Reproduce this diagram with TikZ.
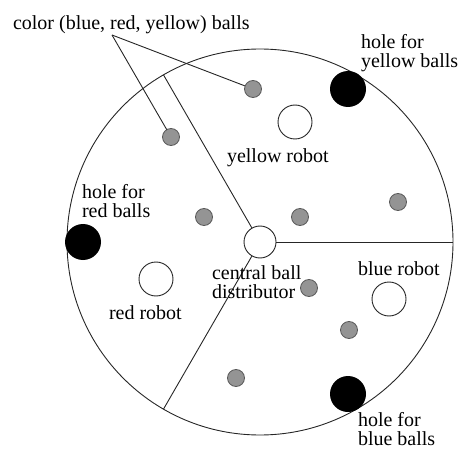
\documentclass[tikz,border=0pt]{standalone}
\usepackage{fontspec}
\setmainfont{Liberation Serif}
\begin{document}
\begin{tikzpicture}[x=1pt,y=-1pt,
  every node/.style={inner sep=0pt, outer sep=0pt},
  lbl/.style={font=\fontsize{20}{19}\selectfont\rmfamily, align=left, anchor=base west},
  ball/.style={circle, draw=black!65, fill=black!42, line width=0.8pt, minimum size=17pt},
  robot/.style={circle, draw=black!85, fill=white, line width=0.9pt, minimum size=34pt},
  hole/.style={circle, fill=black, minimum size=36pt},
  distr/.style={circle, draw=black!85, fill=white, line width=0.9pt, minimum size=32pt},
  wall/.style={draw=black!85, line width=0.9pt},
  pointer/.style={draw=black!85, line width=0.9pt}]
\useasboundingbox (0,0) rectangle (463,457);
% table
\coordinate (O) at (260,242);
\draw[wall] (O) circle[radius=193];
% radial walls
\coordinate (E0) at (453,242);
\coordinate (E1) at (163.5,409.1);
\coordinate (E2) at (163.5,74.9);
\node[distr] (D) at (O) {};
\draw[wall] (D) -- (E0);
\draw[wall] (D) -- (E1);
\draw[wall] (D) -- (E2);
% holes
\node[hole] (hy) at (348,89) {};
\node[hole] (hr) at (83,242) {};
\node[hole] (hb) at (348,394) {};
% robots
\node[robot] (ry) at (295,122) {};
\node[robot] (rr) at (156,279) {};
\node[robot] (rb) at (389,299) {};
% balls
\node[ball] (b1) at (253,89) {};
\node[ball] (b2) at (171,137) {};
\node[ball] (b3) at (204,217) {};
\node[ball] (b4) at (300,217) {};
\node[ball] (b5) at (398,202) {};
\node[ball] (b6) at (309,288) {};
\node[ball] (b7) at (349,330) {};
\node[ball] (b8) at (236,378) {};
% labels (multi-line: anchor is the baseline of the last line)
\node[lbl] (lc) at (13,30) {color (blue, red, yellow) balls};
\coordinate (apex) at (112,35);
\draw[pointer] (apex) -- (b1);
\draw[pointer] (apex) -- (b2);
\node[lbl] (lhy) at (361,68) {hole for\\yellow balls};
\node[lbl] (lry) at (227,163) {yellow robot};
\node[lbl] (lhr) at (82,218) {hole for\\red balls};
\node[lbl] (lrr) at (109,319) {red robot};
\node[lbl] (ld) at (212,298) {central ball\\distributor};
\node[lbl] (lrb) at (358,275) {blue robot};
\node[lbl] (lhb) at (358,445) {hole for\\blue balls};
\end{tikzpicture}
\end{document}
